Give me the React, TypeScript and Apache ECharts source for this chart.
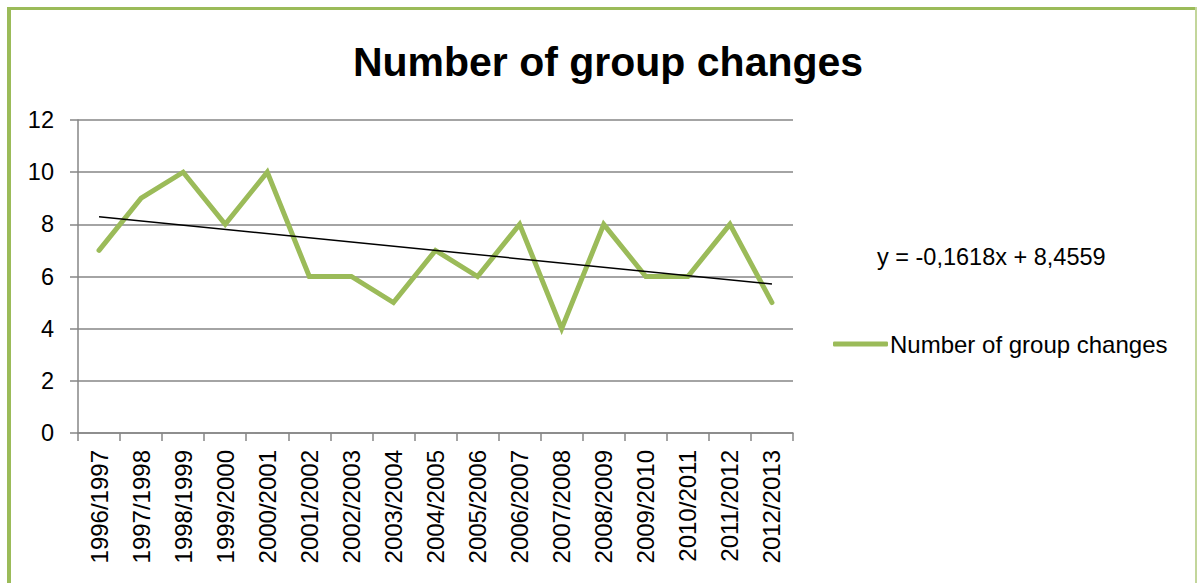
import React, { useEffect, useRef } from "react";
import * as echarts from "echarts";

const categories = [
  "1996/1997", "1997/1998", "1998/1999", "1999/2000", "2000/2001", "2001/2002",
  "2002/2003", "2003/2004", "2004/2005", "2005/2006", "2006/2007", "2007/2008",
  "2008/2009", "2009/2010", "2010/2011", "2011/2012", "2012/2013",
];
const groupChanges = [7, 9, 10, 8, 10, 6, 6, 5, 7, 6, 8, 4, 8, 6, 6, 8, 5];
// linear trendline end points (y = -0,1618x + 8,4559)
const trendStart = 8.29;
const trendEnd = 5.71;
const trendLabel = "y = -0,1618x + 8,4559";
const seriesName = "Number of group changes";
const yTicks = [0, 2, 4, 6, 8, 10, 12];

const FONT = "Liberation Sans";
const GREEN = "#9BBB59";
const GRAY = "#868686";

export default function App() {
  const ref = useRef<HTMLDivElement>(null);
  useEffect(() => {
    if (!ref.current) return;
    const chart = echarts.init(ref.current, null, { renderer: "svg" });
    const trend = categories.map((_, i) =>
      i === 0 ? trendStart : i === categories.length - 1 ? trendEnd : null
    );
    chart.setOption({
      animation: false,
      backgroundColor: "#ffffff",
      textStyle: { fontFamily: FONT },
      title: {
        text: seriesName,
        left: 603,
        textAlign: "center",
        top: 36,
        textStyle: { fontFamily: FONT, fontSize: 41, fontWeight: "bold", color: "#000" },
      },
      grid: { left: 78, right: 404, top: 120, bottom: 150, containLabel: false },
      legend: {
        left: 828,
        top: 327,
        data: [seriesName],
        icon: "roundRect",
        itemWidth: 55,
        itemHeight: 5,
        itemGap: 4,
        textStyle: { fontFamily: FONT, fontSize: 24, color: "#000", padding: [0, 0, 0, -3] },
      },
      xAxis: {
        type: "category",
        data: categories,
        boundaryGap: true,
        axisLine: { lineStyle: { color: GRAY, width: 1.5 } },
        axisTick: { show: true, length: 8, lineStyle: { color: GRAY, width: 1.5 }, interval: 0 },
        axisLabel: {
          interval: 0,
          rotate: 90,
          margin: 17,
          fontFamily: FONT,
          fontSize: 24,
          color: "#000",
        },
      },
      yAxis: {
        type: "value",
        min: yTicks[0],
        max: yTicks[yTicks.length - 1],
        interval: 2,
        axisLine: { show: true, lineStyle: { color: GRAY, width: 1.5 } },
        axisTick: { show: true, length: 8, lineStyle: { color: GRAY, width: 1.5 } },
        splitLine: { show: true, lineStyle: { color: GRAY, width: 1.5 } },
        axisLabel: { margin: 24, fontFamily: FONT, fontSize: 23.5, color: "#000" },
      },
      series: [
        {
          name: seriesName,
          type: "line",
          data: groupChanges,
          symbol: "none",
          lineStyle: { color: GREEN, width: 5, cap: "round", join: "miter" },
          itemStyle: { color: GREEN },
          z: 3,
        },
        {
          name: "trend",
          type: "line",
          data: trend,
          connectNulls: true,
          symbol: "none",
          lineStyle: { color: "#000", width: 1.5 },
          itemStyle: { color: "#000" },
          z: 4,
        },
      ],
      graphic: [
        { type: "rect", shape: { x: 7, y: 7, width: 4, height: 600 }, style: { fill: GREEN } },
        { type: "rect", shape: { x: 7, y: 7, width: 1190, height: 3 }, style: { fill: GREEN } },
        { type: "rect", shape: { x: 1195, y: 7, width: 2, height: 600 }, style: { fill: "#C3D69B" } },
        {
          type: "text",
          left: 877,
          top: 245,
          style: { text: trendLabel, fontFamily: FONT, fontSize: 23.5, fill: "#000" },
        },
      ],
    });
    return () => chart.dispose();
  }, []);
  return (
    <div
      ref={ref}
      style={{ position: "fixed", left: 0, top: 0, width: 1197, height: 583 }}
    />
  );
}
